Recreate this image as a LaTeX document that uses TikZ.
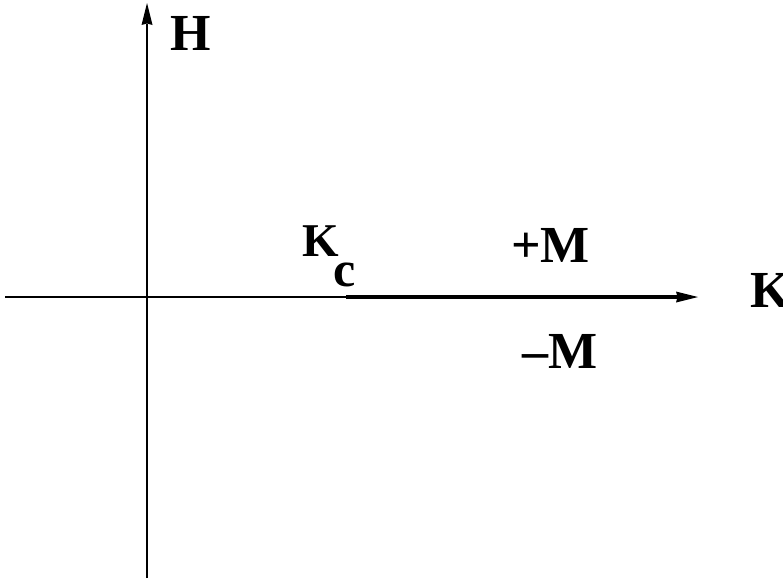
\documentclass[tikz,border=0pt]{standalone}
\usepackage{fontspec}
\setmainfont{Liberation Serif}
\usetikzlibrary{arrows.meta}
\tikzset{
  thinax/.style={line width=1.3pt},
  thickax/.style={line width=4pt},
  tip/.style={-{Stealth[length=22pt,width=11pt,inset=1.5pt,line width=0pt]}},
  lbl/.style={inner sep=0pt, anchor=base west, font=\fontsize{52}{60}\selectfont\bfseries},
  lblk/.style={inner sep=0pt, anchor=base west, font=\fontsize{47}{56}\selectfont\bfseries},
  lblc/.style={inner sep=0pt, anchor=base west, font=\fontsize{50}{56}\selectfont\bfseries}
}
\begin{document}
\begin{tikzpicture}[x=1pt,y=-1pt]
\useasboundingbox (0,0) rectangle (783,581);
\coordinate (vb) at (147,578);
\coordinate (vt) at (147,3);
\coordinate (hl) at (5,297);
\coordinate (kc) at (346,297);
\coordinate (hr) at (698,297);
\draw[thinax,tip] (vb) -- (vt);
\draw[thinax] (hl) -- (kc);
\draw[thickax,tip] (kc) -- (hr);
\node[lbl] (H) at (170,50) {H};
\node[lbl] (K) at (750,307) {K};
\node[lblk] (Kc) at (302,256) {K};
\node[lblc] (c) at (333,286) {c};
\node[lbl] (pM) at (511,262) {+M};
\node[lbl] (mM) at (522,368) {–M};
\end{tikzpicture}
\end{document}
